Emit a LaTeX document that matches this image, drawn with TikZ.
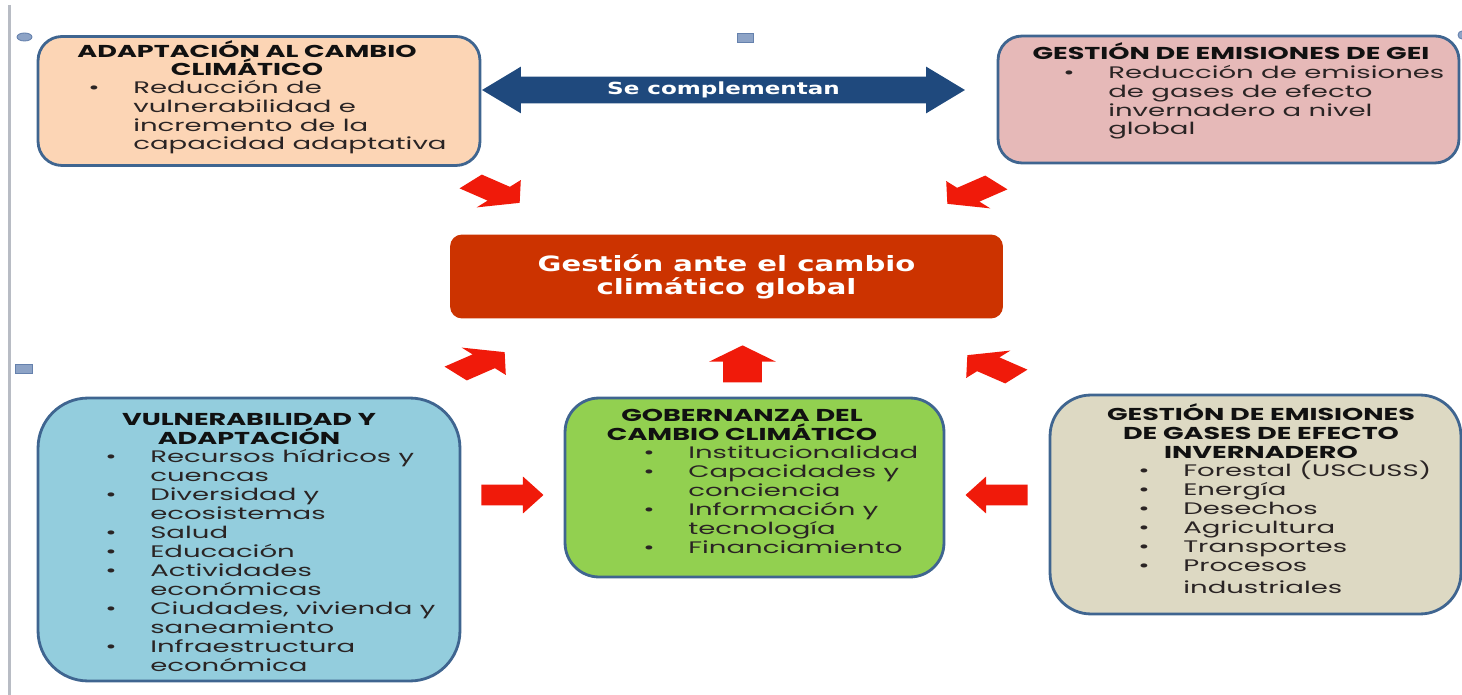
\documentclass[tikz,border=0pt]{standalone}
\usepackage{fontspec}
\usetikzlibrary{shapes.arrows}
\newfontfamily\gothic{Poppins}[FakeStretch=1.65]
\newfontfamily\gothichead{Poppins}[FakeStretch=1.57]
\newfontfamily\verdana{DejaVu Sans}[FakeStretch=1.38]
\definecolor{boxline}{HTML}{3F6590}
\definecolor{peachfill}{HTML}{FCD5B5}
\definecolor{pinkfill}{HTML}{E6B9B8}
\definecolor{aquafill}{HTML}{93CDDD}
\definecolor{greenfill}{HTML}{92D050}
\definecolor{tanfill}{HTML}{DDD9C3}
\definecolor{corefill}{HTML}{CC3300}
\definecolor{navyarrow}{HTML}{1F497D}
\definecolor{arrowred}{HTML}{F01A0A}
\definecolor{inkhead}{HTML}{111111}
\definecolor{inkbody}{HTML}{2A2424}
\definecolor{handlefill}{HTML}{8DA3C6}
\definecolor{handledraw}{HTML}{6581AD}
\definecolor{rulegray}{HTML}{B8BCC4}
\newcommand{\bul}{\makebox[25.6pt][l]{\textbullet}}
\newcommand{\cnt}{\hspace*{25.6pt}}

\begin{document}
\begin{tikzpicture}[
  x=0.02cm, y=-0.02cm,
  box/.style={draw=boxline, line width=1.6pt, inner sep=0pt},
  head/.style={font=\gothichead\bfseries\fontsize{9.8}{10.8}\selectfont, text=inkhead, align=center, anchor=base, inner sep=0pt},
  lst/.style={font=\gothic\fontsize{9.5}{10.8}\selectfont, text=inkbody, align=left, anchor=base west, inner sep=0pt},
  redarr/.style={single arrow, fill=arrowred, anchor=tip, inner xsep=0pt, single arrow head indent=0pt, transform shape},
  diagarr/.style={redarr, inner ysep=9.65pt, single arrow head extend=9.7pt, single arrow tip angle=103, minimum height=36.4pt},
  uparr/.style={redarr, inner ysep=10.8pt, single arrow head extend=8pt, single arrow tip angle=128, minimum height=21pt},
  sidearr/.style={redarr, inner ysep=5.7pt, single arrow head extend=4.6pt, single arrow tip angle=84, minimum height=35.3pt},
  handle/.style={fill=handlefill, draw=handledraw, line width=0.5pt}
]
\useasboundingbox (0,0) rectangle (1462,695);

\draw[rulegray, line width=1.4pt] (9.5,5) -- (9.5,695);
\draw[handle] (24.5,37) ellipse (7.5 and 4);
\draw[handle] (737,33) rectangle (753,42);
\draw[handle] (15,364) rectangle (32,373);
\draw[handle] (1462,35) circle (4);

% titles and lists sit on the baseline of their last line
\node[box, fill=peachfill, rounded corners=0.48cm, minimum width=8.84cm, minimum height=2.58cm] (adaptBox) at (259,101) {};
\node[head] (adaptTitle) at (247,76) {ADAPTACIÓN AL CAMBIO\\CLIMÁTICO};
\node[lst] (adaptList) at (88,150) {\bul Reducción de\\ \cnt vulnerabilidad e\\ \cnt incremento de la\\ \cnt capacidad adaptativa};

\node[box, fill=pinkfill, rounded corners=0.48cm, minimum width=9.22cm, minimum height=2.54cm] (geiBox) at (1228.5,99.5) {};
\node[head] (geiTitle) at (1231,60) {GESTIÓN DE EMISIONES DE GEI};
\node[lst] (geiList) at (1063,135) {\bul Reducción de emisiones\\ \cnt de gases de efecto\\ \cnt invernadero a nivel\\ \cnt global};

\node[double arrow, fill=navyarrow, minimum height=9.66cm, inner ysep=3pt, text height=7pt, text depth=1.8pt,
  double arrow head extend=5.7pt, double arrow tip angle=62, double arrow head indent=0pt,
  font=\verdana\bfseries\fontsize{9.5}{10}\selectfont, text=white] (complement) at (723.5,90) {Se complementan};

\node[fill=corefill, rounded corners=0.24cm, minimum width=11.06cm, minimum height=1.68cm, align=center,
  font=\verdana\bfseries\fontsize{12}{13}\selectfont, text=white] (gestion) at (726.5,276.5) {Gestión ante el cambio\\climático global};

\begin{scope}[shift={(520,203)}, yscale=0.52]
  \node[diagarr, rotate=-40] (arrTL) at (0,0) {};
\end{scope}
\begin{scope}[shift={(947,204)}, yscale=0.52]
  \node[diagarr, rotate=-140] (arrTR) at (0,0) {};
\end{scope}
\begin{scope}[shift={(505,352)}, yscale=0.52]
  \node[diagarr, rotate=40] (arrBL) at (0,0) {};
\end{scope}
\begin{scope}[shift={(967,355)}, yscale=0.52]
  \node[diagarr, rotate=140] (arrBR) at (0,0) {};
\end{scope}
\node[uparr, rotate=90] (arrUp) at (742.5,345) {};
\node[sidearr] (arrML) at (544,495) {};
\node[sidearr, rotate=180] (arrMR) at (965,495) {};

\node[box, fill=aquafill, rounded corners=1.0cm, minimum width=8.44cm, minimum height=5.66cm] (vulnBox) at (249,539.5) {};
\node[head] (vulnTitle) at (249,444) {VULNERABILIDAD Y\\ADAPTACIÓN};
\node[lst] (vulnList) at (105,671) {\bul Recursos hídricos y\\ \cnt cuencas\\ \bul Diversidad y\\ \cnt ecosistemas\\ \bul Salud\\ \bul Educación\\
  \bul Actividades\\ \cnt económicas\\ \bul Ciudades, vivienda y\\ \cnt saneamiento\\ \bul Infraestructura\\ \cnt económica};

\node[box, fill=greenfill, rounded corners=0.68cm, minimum width=7.58cm, minimum height=3.58cm] (gobBox) at (754.5,487.5) {};
\node[head] (gobTitle) at (742,440) {GOBERNANZA DEL\\CAMBIO CLIMÁTICO};
\node[lst] (gobList) at (643,553) {\bul Institucionalidad\\ \bul Capacidades y\\ \cnt conciencia\\ \bul Información y\\ \cnt tecnología\\ \bul Financiamiento};

\node[box, fill=tanfill, rounded corners=0.82cm, minimum width=8.22cm, minimum height=4.38cm] (emisBox) at (1255.5,504.5) {};
\node[head] (emisTitle) at (1261,458) {GESTIÓN DE EMISIONES\\DE GASES DE EFECTO\\INVERNADERO};
\node[lst] (emisList) at (1138,593) {\bul Forestal (USCUSS)\\ \bul Energía\\ \bul Desechos\\ \bul Agricultura\\ \bul Transportes\\ \bul Procesos\\[1.5pt] \cnt industriales};
\end{tikzpicture}
\end{document}
